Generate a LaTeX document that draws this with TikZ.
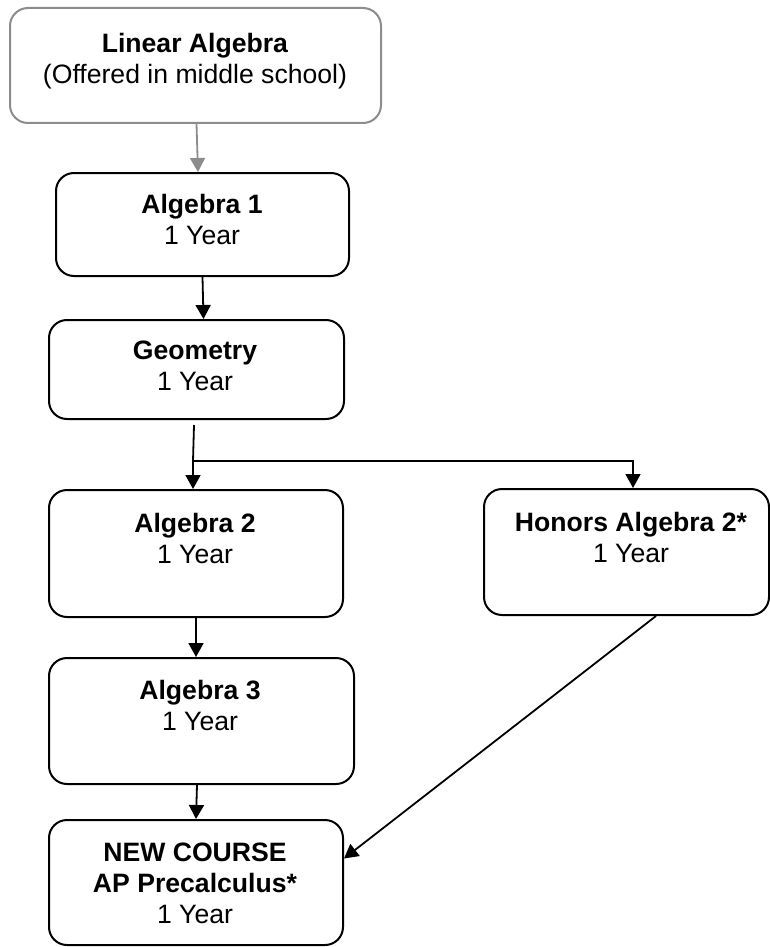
\documentclass[tikz,border=0pt]{standalone}
\usepackage{fontspec}
\setmainfont{Liberation Sans}
\usetikzlibrary{arrows.meta}
\definecolor{boxgray}{RGB}{140,140,140}
\begin{document}
\begin{tikzpicture}[x=1pt,y=-1pt,
  box/.style={draw, line width=2pt, rounded corners=18pt, anchor=north west, inner sep=0pt},
  lbl/.style={anchor=base, align=center, inner sep=0pt, font=\fontsize{26.6}{31}\selectfont},
  arr/.style={line width=1.8pt, -{Triangle[width=15pt,length=14pt]}},
  conn/.style={line width=1.8pt}]
\useasboundingbox (0,0) rectangle (769,947);

% boxes
\node[box, draw=boxgray, minimum width=371pt, minimum height=115pt] (la) at (9,7) {};
\node[box, minimum width=293pt, minimum height=103pt] (a1) at (55,172) {};
\node[box, minimum width=295pt, minimum height=99pt] (geo) at (48,319) {};
\node[box, minimum width=294pt, minimum height=127pt] (a2) at (48,489) {};
\node[box, minimum width=285pt, minimum height=126pt] (hon) at (483,488) {};
\node[box, minimum width=305pt, minimum height=126pt] (a3) at (48,657) {};
\node[box, minimum width=294pt, minimum height=125pt] (nc) at (48,819) {};

% texts (anchor base = baseline of the last line)
\node[lbl] (tla) at (195,83.5) {\textbf{Linear Algebra}\\(Offered in middle school)};
\node[lbl] (ta1) at (202,244) {\textbf{Algebra 1}\\1 Year};
\node[lbl] (tgeo) at (195,390) {\textbf{Geometry}\\1 Year};
\node[lbl] (ta2) at (195,563) {\textbf{Algebra 2}\\1 Year};
\node[lbl] (thon) at (631,562) {\textbf{Honors Algebra 2*}\\1 Year};
\node[lbl] (ta3) at (200,730) {\textbf{Algebra 3}\\1 Year};
\node[lbl] (tnc) at (195,923) {\textbf{NEW COURSE}\\\textbf{AP Precalculus*}\\1 Year};

% connectors
\coordinate (split) at (193,461);
\draw[arr, draw=boxgray, fill=boxgray] ([xshift=1pt]la.south) -- ([xshift=-4.5pt]a1.north);
\draw[arr] (a1.south) -- ([xshift=7pt]geo.north);
\draw[conn] ([xshift=-2.5pt,yshift=-5pt]geo.south) -- (split);
\draw[arr] (split) -- (split |- a2.north);
\draw[arr] (split) -| ([xshift=6.5pt]hon.north);
\draw[arr] (a2.south) -- (a2.south |- a3.north);
\draw[arr] ([xshift=-4.5pt]a3.south) -- (nc.north);
\draw[arr] ([xshift=29.5pt]hon.south) -- ([yshift=24pt]nc.east);
\end{tikzpicture}
\end{document}
